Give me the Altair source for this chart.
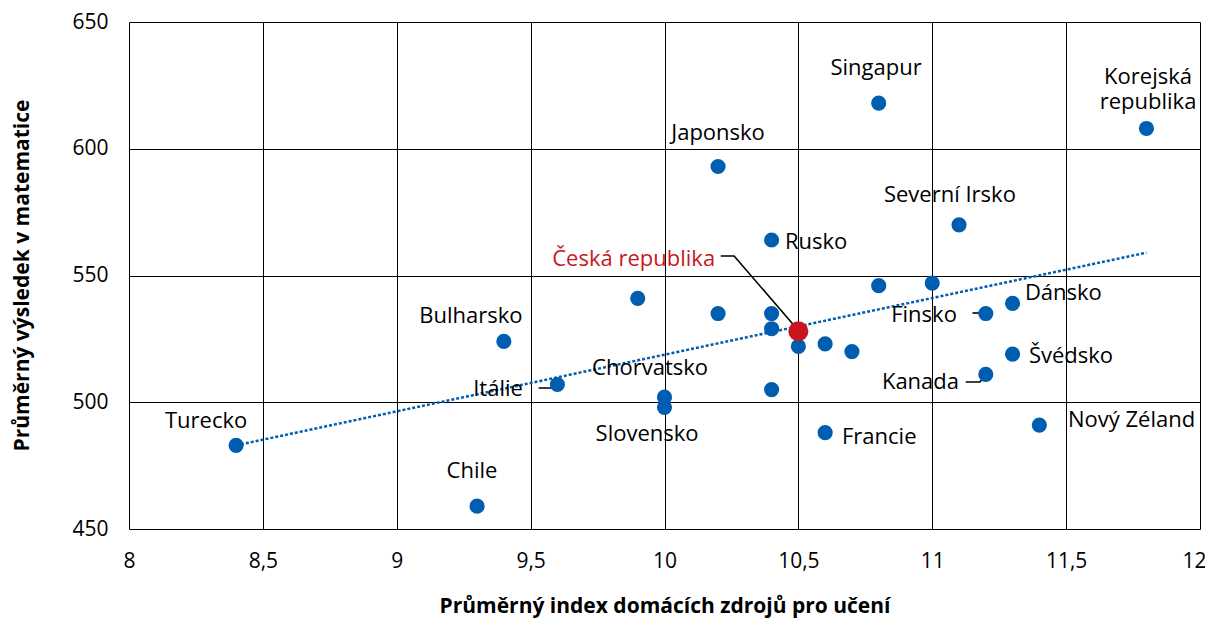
import altair as alt
import pandas as pd

# --- data ---
countries = ["Turecko", "Chile", "Bulharsko", "Itálie", "", "Chorvatsko", "Slovensko",
             "Japonsko", "", "Rusko", "", "", "", "Česká republika", "", "",
             "Francie", "", "", "Singapur", "", "Severní Irsko", "Finsko", "Kanada",
             "Dánsko", "Švédsko", "Nový Zéland", "Korejská republika"]
resources = [8.4, 9.3, 9.4, 9.6, 9.9, 10.0, 10.0,
             10.2, 10.2, 10.4, 10.4, 10.4, 10.4, 10.5, 10.5, 10.6,
             10.6, 10.7, 10.8, 10.8, 11.0, 11.1, 11.2, 11.2,
             11.3, 11.3, 11.4, 11.8]
math_score = [483, 459, 524, 507, 541, 502, 498,
              593, 535, 564, 535, 529, 505, 528, 522, 523,
              488, 520, 546, 618, 547, 570, 535, 511,
              539, 519, 491, 608]
highlight = "Česká republika"

trend_x = [8.4, 11.8]
trend_y = [483, 559]

# --- annotation layout (label anchors in data units) ---
label_text = ["Turecko", "Chile", "Bulharsko", "Itálie", "Chorvatsko", "Slovensko",
              "Japonsko", "Rusko", "Česká republika", "Singapur", "Korejská", "republika",
              "Severní Irsko", "Finsko", "Dánsko", "Švédsko", "Kanada", "Nový Zéland", "Francie"]
label_x = [8.288, 9.281, 9.277, 9.471, 9.946, 9.935, 10.2, 10.45, 10.189, 10.79, 11.806, 11.806,
           11.066, 11.092, 11.346, 11.361, 11.1, 11.507, 10.663]
label_y = [492.6, 472.9, 534.0, 505.2, 513.5, 487.5, 606.2, 563.2, 556.5, 631.9, 628.2, 618.4,
           581.8, 534.4, 543.1, 518.2, 508.0, 493.0, 486.3]
label_align = ["center", "center", "center", "right", "center", "center", "center", "left",
               "right", "center", "center", "center", "center", "right", "left", "left", "right",
               "left", "left"]

leader_id = [1, 1, 1, 2, 2, 3, 3, 3, 4, 4, 4]
leader_order = [0, 1, 2, 0, 1, 0, 1, 2, 0, 1, 2]
leader_x = [10.21, 10.26, 10.5, 11.15, 11.2, 11.125, 11.178, 11.2, 9.53, 9.584, 9.6]
leader_y = [557.7, 557.7, 528.3, 535.2, 535.2, 508.0, 508.0, 510.8, 505.6, 505.6, 506.8]

BLUE = "#005EB0"
RED = "#C8161E"
FONT = "Open Sans"
LABEL_SIZE = 22

pts = pd.DataFrame({"country": countries, "x": resources, "y": math_score})
pts["hl"] = pts["country"] == highlight
labels = pd.DataFrame({"text": label_text, "x": label_x, "y": label_y, "align": label_align})
labels["color"] = ["red" if t == highlight else "black" for t in label_text]
trend = pd.DataFrame({"x": trend_x, "y": trend_y})
leaders = pd.DataFrame({"id": leader_id, "o": leader_order, "x": leader_x, "y": leader_y})

xscale = alt.Scale(domain=[8, 12], nice=False, zero=False)
yscale = alt.Scale(domain=[450, 650], nice=False, zero=False)

xaxis = alt.Axis(values=[8, 8.5, 9, 9.5, 10, 10.5, 11, 11.5, 12],
                 labelExpr="replace(toString(datum.value), '.', ',')",
                 title="Průměrný index domácích zdrojů pro učení",
                 grid=True, gridColor="#000000", gridOpacity=1, gridWidth=1,
                 domain=False, ticks=False, labelPadding=21,
                 labelFlush=True, labelFlushOffset=6,
                 labelFont=FONT, labelFontSize=21, labelColor="#000000",
                 titleFont=FONT, titleFontSize=21, titleFontWeight="bold", titleColor="#000000",
                 titleY=77, titleBaseline="middle")
yaxis = alt.Axis(values=[450, 500, 550, 600, 650],
                 title="Průměrný výsledek v matematice",
                 grid=True, gridColor="#000000", gridOpacity=1, gridWidth=1,
                 domain=False, ticks=False, labelPadding=21, labelFlush=False,
                 labelFont=FONT, labelFontSize=21, labelColor="#000000",
                 titleFont=FONT, titleFontSize=21, titleFontWeight="bold", titleColor="#000000",
                 titleX=-107, titleY=253, titleBaseline="middle", titleAngle=-90)

trend_layer = alt.Chart(trend).mark_line(color=BLUE, strokeWidth=2.5, strokeDash=[3, 2]).encode(
    x=alt.X("x:Q", scale=xscale, axis=xaxis), y=alt.Y("y:Q", scale=yscale, axis=yaxis))

leader_layer = alt.Chart(leaders).mark_line(color="#000000", strokeWidth=1.6).encode(
    x=alt.X("x:Q", scale=xscale), y=alt.Y("y:Q", scale=yscale),
    detail="id:N", order="o:Q")

blue_pts = alt.Chart(pts[~pts["hl"]]).mark_circle(size=230, opacity=1, color=BLUE).encode(
    x=alt.X("x:Q", scale=xscale), y=alt.Y("y:Q", scale=yscale))
red_pts = alt.Chart(pts[pts["hl"]]).mark_circle(size=400, opacity=1, color=RED).encode(
    x=alt.X("x:Q", scale=xscale), y=alt.Y("y:Q", scale=yscale))

text_layers = []
for al in ["left", "center", "right"]:
    sub = labels[labels["align"] == al]
    for col, hexc in [("black", "#000000"), ("red", RED)]:
        s = sub[sub["color"] == col]
        if len(s) == 0:
            continue
        text_layers.append(
            alt.Chart(s).mark_text(align=al, baseline="middle", font=FONT, fontSize=LABEL_SIZE,
                                   color=hexc).encode(
                x=alt.X("x:Q", scale=xscale), y=alt.Y("y:Q", scale=yscale), text="text"))

chart = alt.layer(trend_layer, leader_layer, blue_pts, red_pts, *text_layers).properties(
    width=1071, height=507,
    autosize=alt.AutoSizeParams(type="none"),
    padding={"left": 121, "top": 14, "right": 5, "bottom": 92},
).configure_view(stroke="#000000", strokeWidth=1.2).configure(background="white")

chart.save("out.html", embed_options={"renderer": "svg", "actions": False})
